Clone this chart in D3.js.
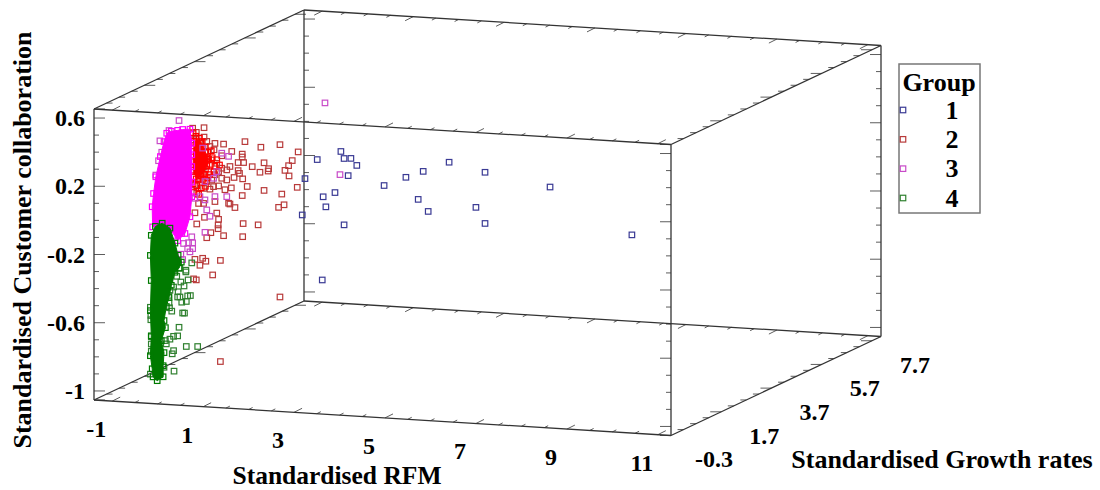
<!doctype html>
<html lang="en">
<head>
    <script src="https://d3js.org/d3.v7.min.js"></script>
    <style>
        html, body {
            margin: 0;
            padding: 0;
            background: #fff;
        }

        text {
            font-family: "Liberation Serif", serif;
            font-weight: bold;
            fill: #000;
        }
    </style>
</head>
<body>
<svg id="svg" width="1100" height="490"></svg>

<script>
    // values. The depth of a point can't be told apart from
    // a flat picture, so every point sits on the front plane (growth = growthFront)
    var growthFront = -0.3;

    var rfmTicks = [-1, 1, 3, 5, 7, 9, 11];
    var growthTicks = [-0.3, 1.7, 3.7, 5.7, 7.7];
    var collabTicks = [-1, -0.6, -0.2, 0.2, 0.6];
    var groups = ["1", "2", "3", "4"];

    var group1Rfm = [4.03, 3.51, 4.10, 4.25, 4.38, 3.24, 4.19, 6.41, 5.84, 5.46, 7.20, 4.98, 8.63, 3.90, 3.64, 3.70, 5.73, 5.95, 7.00, 7.20, 3.18, 4.10, 10.43, 3.62];
    var group1Collab = [.493, .437, .453, .456, .417, .321, .354, .469, .406, .365, .423, .309, .360, .250, .221, .163, .240, .173, .214, .123, .107, .064, .109, -.267];

    var group2Rfm = [1.92, 2.27, 2.69, 3.09, 2.96, 2.88, 2.80, 2.89, 3.07, 2.73, 2.78, 2.66, 2.44, 2.43, 2.34, 2.25, 2.08, 1.86, 1.86, 1.89, 1.77, 1.77, 1.80, 1.68, 1.87, 1.97, 1.62, 1.86, 2.34, 1.56, 1.59, 1.70, 1.30, 1.34, 1.33, 1.33, 1.17, 1.08, 1.45, 1.87, 1.88, 2.21, 1.03, 0.86, 1.63, 1.45, 1.26, 1.02, 0.77, 0.85, 0.85, 1.02, 1.41, 1.24, 1.59, 1.52, 1.41, 1.52, 1.41, 1.48, 1.34, 1.23, 1.15, 1.26, 1.01, 0.90, 0.82,
        .82, .99, 1.06, .93, 1.38, 1.21, .79, .85, 2.69, 1.38,
        .93, 1.08, 1.15, 1.04, .93, 1.19, 1.30, 1.01, .86, 1.12, 1.26, .93, 1.08, .82, 1.01, .86, 1.19, 1.34, .79, .90];
    var group2Collab = [.516, .489, .511, .475, .422, .391, .362, .331, .267, .222, .160, .143, .366, .352, .399, .342, .372, .442, .425, .393, .391, .344, .328, .302, .297, .254, .240, .199, .237, .149, .145, .126, .087, .051, .018, -.004, -.030, -.061, -.043, -.042, .035, .033, .058, .016, .454, .494, .495, .583, .576, .553, .514, .528, .425, .457, .365, .344, .352, .285, .293, .227, .247, .241, .225, .154, .139, .137, .081,
        -.192, -.183, -.199, -.225, -.189, -.277, -.307, -.312, -.382, -.782,
        .491, .504, .475, .444, .413, .397, .379, .355, .323, .327, .311, .275, .269, .244, .227, .196, .279, .331, .509, .451];

    var group3Rfm = [3.68, 4.01, .47, .25, .05, .09, .02, -.04, .01, .21, -.02, 1.04, 1.15, 1.08, 1.04, 1.26, 1.52, 1.56, .75, .68, .77, .66, .71, .77, .57, .53, .35, .24, .93, .82, 1.30, 1.23, 1.04, 1.41, .99, .51, .55];
    var group3Collab = [.772, .357, .616, .554, .490, .424, .373, .288, .089, .036, .020, -.030, .066, .102, .160, .183, .187, .424, -.061, -.097, -.096, -.132, -.150, -.130, -.103, -.045, -.025, -.011, .177, .166, .330, .290, .268, .440, .463, -.167, -.198];

    var group4Rfm = [-.16, -.15, -.15, -.14, -.14, -.14, -.16, .05, .14, .36, .35, .32, .63, .88, .27, .19, .17, .35, .44, .47, .31, .26, .25, .55, .59, .53, .63, .44, .49, .66, .72, .45, .35, .58, .51, .67, .42, .27, .62, .62, .49, .75, .35, .46, .27, .24];
    var group4Collab = [-.489, -.537, -.562, -.661, -.704, -.747, -.881, -.881, -.836, -.855, -.735, -.754, -.706, -.702, -.669, -.698, -.679, -.651, -.647, -.596, -.504, -.485, -.457, -.511, -.511, -.448, -.442, -.419, -.418, -.409, -.406, -.388, -.362, -.352, -.330, -.315, -.298, -.314, -.269, -.259, -.248, -.214, -.264, -.213, -.383, -.413];

    // squares packed so tight they read as pure colour
    var packedRedRfm = [.78, .84, .92, .98, 1.05, .80, .88, .96, 1.10, 1.18, .78, .86, .94, 1.02, 1.10, 1.20, 1.30, .80, .90, 1.00, 1.08, 1.16, 1.26, 1.36, .78, .86, .96, 1.04, 1.14, 1.24, .80, .90, 1.00, 1.10, .78, .86, .96, 1.05, .80, .90];
    var packedRedCollab = [.55, .53, .52, .50, .47, .49, .47, .46, .44, .45, .44, .42, .42, .41, .40, .41, .40, .38, .37, .37, .36, .37, .36, .37, .33, .33, .32, .31, .31, .33, .29, .28, .28, .29, .25, .24, .23, .24, .20, .19];

    // outlines of the parts where the squares overlap into a solid colour
    var denseRedRfm = [.80, .95, 1.05, 1.12, 1.05, .95, .85, .78];
    var denseRedCollab = [.50, .50, .44, .40, .34, .30, .28, .35];
    var denseMagentaRfm = [.20, .30, .44, .55, .71, .75, .75, .75, .75, .75, .71, .60, .44, .27, -.11, -.12, -.09, -.04, .06, .14];
    var denseMagentaCollab = [.537, .55, .558, .565, .569, .488, .42, .351, .26, .174, .056, -.044, -.089, -.020, -.017, .101, .179, .278, .398, .487];
    var denseGreenRfm = [-.14, -.05, .10, .27, .38, .45, .52, .47, .38, .30, .25, .19, .14, .17, .08, .14, .12, .12, -.01, -.10, -.12, -.16, -.14, -.16, -.14, -.16];
    var denseGreenCollab = [-.067, -.013, .008, -.018, -.104, -.174, -.213, -.250, -.275, -.353, -.425, -.479, -.562, -.603, -.681, -.750, -.827, -.892, -.917, -.896, -.849, -.773, -.656, -.509, -.332, -.185];

    var markColors = ["#3a3a94", "#b83a3a", "#c84ac8", "#2f802f"];
    var denseColors = [null, "#ff0000", "#ff00ff", "#007a00"];

    var svg = d3.select("#svg");

    var rfmScale = d3.scaleLinear().domain([-1.4, 11.29]).range([0, 577]);
    var growthScale = d3.scaleLinear().domain([-0.3, 8.06]).range([0, 1]);
    var collabScale = d3.scaleLinear().domain([-1.053, 0.653]).range([291, 0]);

    // oblique projection: front-top-left corner of the box is (94, 109)
    var project = function (rfm, growth, collab) {
        var along = rfmScale(rfm);
        var depth = growthScale(growth);
        return [
            94 + along + depth * 210,
            109 + along * 0.0615 - depth * 99 + collabScale(collab)
        ];
    };

    var rfmEnds = rfmScale.domain();
    var growthEnds = growthScale.domain();
    var collabEnds = collabScale.domain();

    var line = function (a, b, width) {
        svg.append("line")
            .attr("x1", a[0])
            .attr("y1", a[1])
            .attr("x2", b[0])
            .attr("y2", b[1])
            .attr("stroke", "#333")
            .attr("stroke-width", width);
    };

    var tick = function (p, dx, dy) {
        line(p, [p[0] + dx, p[1] + dy], 0.8);
    };

    // the 12 box edges with their ticks
    growthEnds.forEach(function (g, gi) {
        collabEnds.forEach(function (c) {
            line(project(rfmEnds[0], g, c), project(rfmEnds[1], g, c), 1.3);
            var sign = gi === 0 ? 1 : -1;
            d3.range(-1, 11.5, 0.5).forEach(function (r) {
                var major = (r + 1) % 2 === 0;
                tick(project(r, g, c), sign * (major ? 8 : 4), sign * (major ? -4 : -2));
            });
        });
    });
    rfmEnds.forEach(function (r, ri) {
        collabEnds.forEach(function (c) {
            line(project(r, growthEnds[0], c), project(r, growthEnds[1], c), 1.3);
            var sign = ri === 0 ? 1 : -1;
            d3.range(-0.3, 8, 0.5).forEach(function (g, i) {
                tick(project(r, g, c), sign * (i % 4 === 0 ? 11 : 6), 0);
            });
        });
        growthEnds.forEach(function (g) {
            line(project(r, g, collabEnds[0]), project(r, g, collabEnds[1]), 1.3);
            var sign = ri === 0 ? 1 : -1;
            d3.range(0, 17).forEach(function (i) {
                var c = -1 + i * 0.1;
                tick(project(r, g, c), sign * (i % 4 === 0 ? 11 : 5), 0);
            });
        });
    });

    var square = function (p, color) {
        svg.append("rect")
            .attr("x", p[0] - 2.75)
            .attr("y", p[1] - 2.75)
            .attr("width", 5.5)
            .attr("height", 5.5)
            .attr("fill", "none")
            .attr("stroke", color)
            .attr("stroke-width", 1.2);
    };

    // dense outlines last within each group, the next group covers them
    var drawGroup = function (i, rfm, collab, denseRfm, denseCollab) {
        rfm.forEach(function (r, k) {
            square(project(r, growthFront, collab[k]), markColors[i]);
        });
        if (denseRfm) {
            var outline = denseRfm.map(function (r, k) {
                return project(r, growthFront, denseCollab[k]);
            });
            svg.append("path")
                .attr("d", d3.line()(outline) + "Z")
                .attr("fill", denseColors[i])
                .attr("stroke", denseColors[i]);
            // squares on the outline keep its edge rough
            outline.forEach(function (p) {
                square(p, denseColors[i]);
            });
        }
    };

    drawGroup(0, group1Rfm, group1Collab);
    drawGroup(1, group2Rfm, group2Collab, denseRedRfm, denseRedCollab);
    packedRedRfm.forEach(function (r, k) {
        square(project(r, growthFront, packedRedCollab[k]), denseColors[1]);
    });
    drawGroup(2, group3Rfm, group3Collab, denseMagentaRfm, denseMagentaCollab);
    drawGroup(3, group4Rfm, group4Collab, denseGreenRfm, denseGreenCollab);

    // tick labels
    var label = function (x, y, s, size, anchor) {
        return svg.append("text")
            .attr("x", x)
            .attr("y", y)
            .attr("text-anchor", anchor || "middle")
            .attr("dominant-baseline", "central")
            .style("font-size", size + "px")
            .text(s);
    };

    rfmTicks.forEach(function (r) {
        var p = project(r, growthFront, collabEnds[0]);
        label(p[0] - 16, p[1] + 28, r, 24);
    });
    growthTicks.forEach(function (g) {
        var p = project(rfmEnds[1], g, collabEnds[0]);
        label(p[0] + 43, p[1] + 24, g, 24);
    });
    collabTicks.forEach(function (c) {
        var p = project(rfmEnds[0], growthFront, c);
        label(85, p[1], c, 24, "end");
    });

    label(337, 475, "Standardised RFM", 25.5);
    label(942, 459, "Standardised Growth rates", 26);
    label(22, 240, "Standardised Customer collaboration", 26)
        .attr("transform", "rotate(-90 22 240)");

    // legend
    svg.append("rect")
        .attr("x", 899)
        .attr("y", 64)
        .attr("width", 81)
        .attr("height", 149)
        .attr("fill", "#fff")
        .attr("stroke", "#777")
        .attr("stroke-width", 1.5);
    label(939, 82, "Group", 26);
    var legendY = d3.scalePoint().domain(groups).range([110, 198]);
    groups.forEach(function (g, i) {
        square([903, legendY(g)], markColors[i]);
        label(952, legendY(g), g, 26);
    });
</script>
</body>
</html>
